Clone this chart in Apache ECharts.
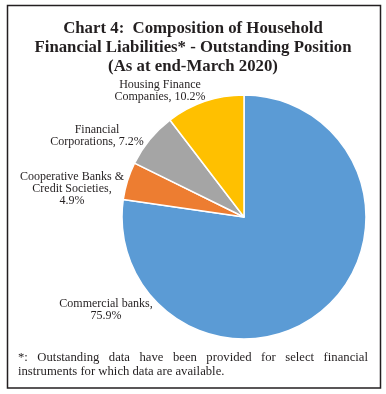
<!DOCTYPE html>
<html>
<head>
<meta charset="utf-8">
<script src="https://cdn.jsdelivr.net/npm/echarts@6/dist/echarts.min.js"></script>
<style>
html,body{margin:0;padding:0;background:#fff;}
#chart{width:386px;height:394px;}
</style>
</head>
<body>
<div id="chart"></div>
<script>
// ---- data ----
const categories = ['Commercial banks', 'Cooperative Banks &\nCredit Societies', 'Financial\nCorporations', 'Housing Finance\nCompanies'];
const shares = [75.9, 4.9, 7.2, 10.2];
const valueSeparators = ['\n', '\n', ' ', ' '];
const colors = ['#5B9BD5', '#ED7D31', '#A5A5A5', '#FFC000'];
const titleText = 'Chart 4:  Composition of Household\nFinancial Liabilities* - Outstanding Position\n(As at end-March 2020)';
const footLine1 = '*: Outstanding data have been provided for select financial';
const footLine2 = 'instruments for which data are available.';

// label anchor points (text block centres)
const labelCentres = [[106, 309.5], [72, 189], [97, 135.5], [160, 91]];

const FONT = '"Liberation Serif", "DejaVu Serif", serif';
const footSize = 12.7;

// justified first footnote line, built from words
const ctx = document.createElement('canvas').getContext('2d');
ctx.font = footSize + 'px ' + FONT;
const words = footLine1.split(' ');
const left = 18, right = 368;
const widths = words.map(w => ctx.measureText(w).width);
const total = widths.reduce((a, b) => a + b, 0);
const gap = (right - left - total) / (words.length - 1);
const footGraphics = [];
let x = left;
words.forEach((w, i) => {
  footGraphics.push({type: 'text', left: x, top: 351, style: {text: w, font: footSize + 'px ' + FONT, fill: '#231f20'}});
  x += widths[i] + gap;
});
footGraphics.push({type: 'text', left: left, top: 365, style: {text: footLine2, font: footSize + 'px ' + FONT, fill: '#231f20'}});

const chart = echarts.init(document.getElementById('chart'), null, {renderer: 'canvas'});
chart.setOption({
  animation: false,
  backgroundColor: '#fff',
  title: {
    text: titleText,
    left: 'center',
    top: 14,
    textStyle: {fontFamily: FONT, fontWeight: 'bold', fontSize: 16.8, lineHeight: 19, color: '#231f20'}
  },
  graphic: [
    {type: 'rect', shape: {x: 7.5, y: 5.5, width: 373, height: 382.5}, style: {fill: 'none', stroke: '#231f20', lineWidth: 1.5}, silent: true}
  ].concat(footGraphics),
  series: [{
    type: 'pie',
    center: [244, 217],
    radius: 122,
    startAngle: 90,
    clockwise: true,
    color: colors,
    itemStyle: {borderColor: '#fff', borderWidth: 1.5},
    label: {
      show: true,
      position: 'outside',
      overflow: 'none',
      fontFamily: FONT,
      fontSize: 12,
      lineHeight: 12,
      color: '#231f20',
      formatter: p => p.name + ',' + valueSeparators[p.dataIndex] + p.value.toFixed(1) + '%'
    },
    labelLine: {show: false},
    labelLayout: p => ({x: labelCentres[p.dataIndex][0], y: labelCentres[p.dataIndex][1], align: 'center', verticalAlign: 'middle'}),
    data: categories.map((c, i) => ({name: c, value: shares[i]}))
  }]
});
</script>
</body>
</html>
